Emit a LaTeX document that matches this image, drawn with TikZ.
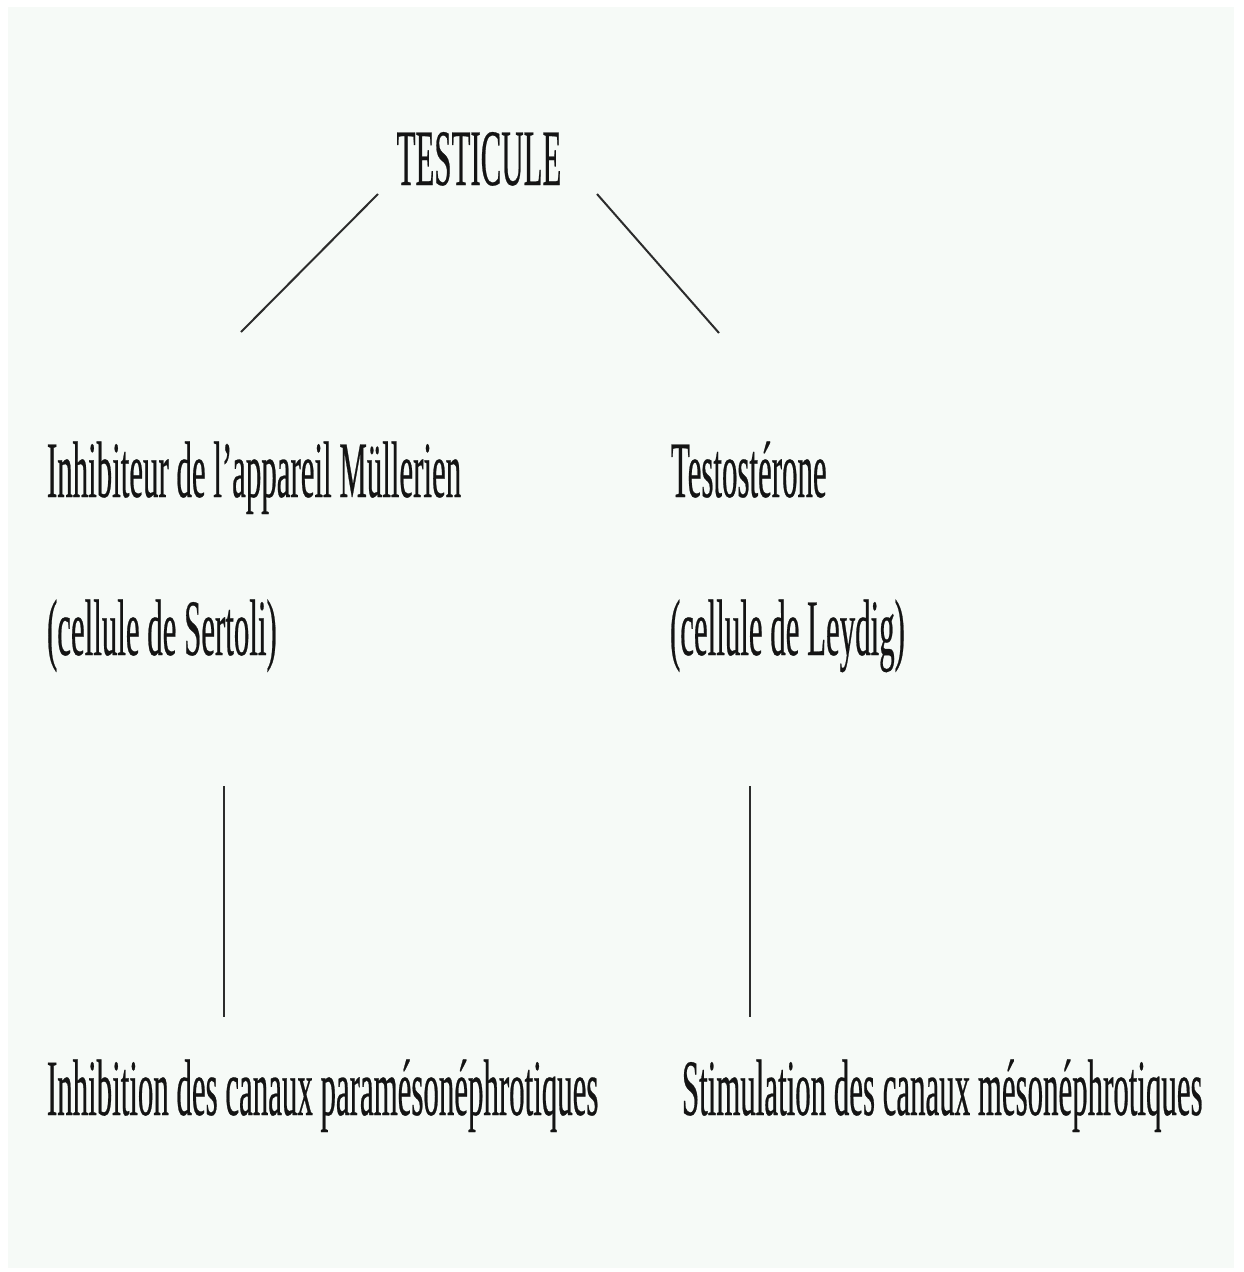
\documentclass[tikz,border=0pt]{standalone}
\usepackage{fontspec}
\newfontfamily\narrowserif[FakeStretch=0.386,FakeBold=0.3]{Liberation Serif}
\definecolor{paper}{RGB}{246,250,247}
\definecolor{ink}{RGB}{20,20,20}
\begin{document}
\begin{tikzpicture}[x=1pt,y=-1pt,
  label text/.style={inner sep=0pt,outer sep=0pt,text=ink,
    font=\narrowserif\fontsize{80}{96}\selectfont},
  link/.style={draw=ink!90,line width=2pt}]
  % page and background sheet
  \useasboundingbox (0,0) rectangle (1243,1272);
  \fill[white] (0,0) rectangle (1243,1272);
  \fill[paper] (8,7) rectangle (1234,1268);

  % labels
  \node[label text,anchor=base] (testicule) at (479,185) {TESTICULE};
  \node[label text,anchor=base west] (amh) at (47,497) {Inhibiteur de l’appareil Müllerien};
  \node[label text,anchor=base west] (sertoli) at (47,655) {(cellule de Sertoli)};
  \node[label text,anchor=base west] (testo) at (671,497) {Testostérone};
  \node[label text,anchor=base west] (leydig) at (670,655) {(cellule de Leydig)};
  \node[label text,anchor=base west] (inhib) at (47,1115) {Inhibition des canaux paramésonéphrotiques};
  \node[label text,anchor=base west] (stim) at (682,1115) {Stimulation des canaux mésonéphrotiques};

  % connector ends
  \coordinate (tL) at (378,194);
  \coordinate (bL) at (241,332);
  \coordinate (tR) at (597,194);
  \coordinate (bR) at (719,333);
  \coordinate (sL) at (224,786);
  \coordinate (eL) at (224,1017);
  \coordinate (sR) at (750,786);
  \coordinate (eR) at (750,1017);

  % connectors
  \draw[link] (tL) -- (bL);
  \draw[link] (tR) -- (bR);
  \draw[link] (sL) -- (eL);
  \draw[link] (sR) -- (eR);
\end{tikzpicture}
\end{document}
